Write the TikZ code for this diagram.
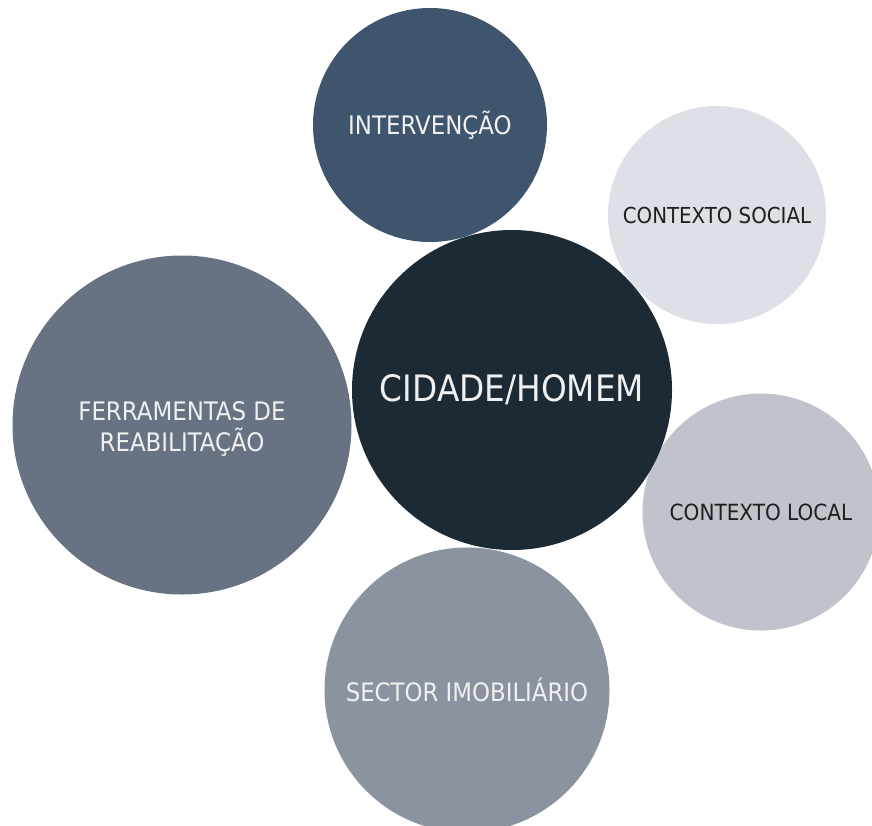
\documentclass[tikz,border=0pt]{standalone}
\usepackage{fontspec}
\setmainfont{DejaVu Sans Condensed}
\begin{document}
\begin{tikzpicture}[x=1pt,y=-1pt,
  bubble/.style={circle,draw=none,inner sep=0pt,align=center,text=white!94!black},
  lightbubble/.style={bubble,text=black!88}]
\definecolor{cInter}{HTML}{3E556D}
\definecolor{cSocial}{HTML}{DDE0E7}
\definecolor{cFerr}{HTML}{677282}
\definecolor{cCidade}{HTML}{1B2A35}
\definecolor{cLocal}{HTML}{C0C3CB}
\definecolor{cSector}{HTML}{8A939F}
\useasboundingbox (0,0) rectangle (872,825);
\clip (0,0) rectangle (872,825);
\fill[white] (0,0) rectangle (872,825);
% surrounding themes
\node[bubble,fill=cInter,minimum size=234pt,font=\fontsize{25.5}{30}\selectfont] (inter) at (430,125) {INTERVENÇÃO};
\node[lightbubble,fill=cSocial,minimum size=218pt,font=\fontsize{22}{26}\selectfont] (social) at (717,215) {CONTEXTO SOCIAL};
\node[bubble,fill=cFerr,minimum size=339pt,font=\fontsize{25.5}{31}\selectfont] (ferr) at (182,425) {};
\node[text=white!94!black,align=center,font=\fontsize{25.5}{31}\selectfont] (ferrlabel) at (182,429) {FERRAMENTAS DE\\REABILITAÇÃO};
\node[lightbubble,fill=cLocal,minimum size=237pt,font=\fontsize{22.3}{26}\selectfont] (local) at (761,512) {CONTEXTO LOCAL};
\node[bubble,fill=cSector,minimum size=285pt,font=\fontsize{25.4}{30}\selectfont] (sector) at (467,690) {SECTOR IMOBILIÁRIO};
% central theme
\node[bubble,fill=cCidade,minimum size=320pt,font=\fontsize{36.4}{42}\selectfont] (cidade) at (512,390) {CIDADE/HOMEM};
\end{tikzpicture}
\end{document}
